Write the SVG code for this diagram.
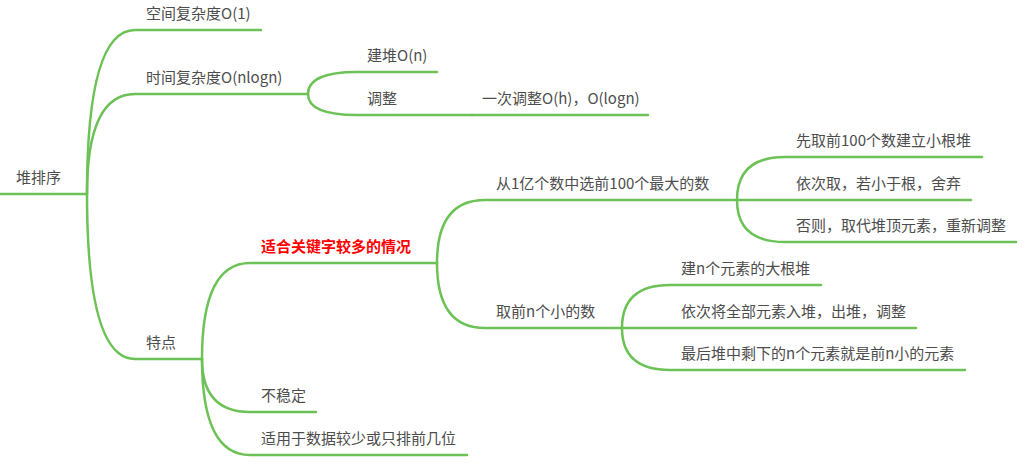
<svg xmlns="http://www.w3.org/2000/svg" width="1032" height="466" viewBox="0 0 1032 466">
<style>
.c{fill:none;stroke:#6cc256;stroke-width:2.5;stroke-linecap:round}
.t{font-family:"Noto Sans CJK SC","Liberation Sans",sans-serif;font-size:15px;fill:#4d4d4d}
.r{fill:#ff0000;font-weight:bold}
</style>
<rect width="1032" height="466" fill="#ffffff"/>
<g id="connectors">
<path class="c" d="M0 194H87"/>
<path class="c" d="M87 194Q87 30 135 30H261"/>
<path class="c" d="M87 194Q87 94 135 94H308"/>
<path class="c" d="M87 194Q87 359 135 359H202"/>
<path class="c" d="M308 94Q308 72 357 72H437"/>
<path class="c" d="M308 94Q308 115 357 115H472"/>
<path class="c" d="M472 115H648"/>
<path class="c" d="M202 359Q202 263 250 263H437"/>
<path class="c" d="M202 359Q202 412 250 412H316"/>
<path class="c" d="M202 359Q202 455 250 455H467"/>
<path class="c" d="M437 263Q437 200 485 200H737"/>
<path class="c" d="M437 263Q437 328 485 328H622"/>
<path class="c" d="M737 200Q737 157 785 157H982"/>
<path class="c" d="M737 200H971"/>
<path class="c" d="M737 200Q737 242 785 242H1016"/>
<path class="c" d="M622 328Q622 285 670 285H821"/>
<path class="c" d="M622 328H916"/>
<path class="c" d="M622 328Q622 370 670 370H965"/>
</g>
<g id="root"><text class="t" x="16" y="183">堆排序</text></g>
<g id="space"><text class="t" x="146" y="19">空间复杂度O(1)</text></g>
<g id="time"><text class="t" x="146" y="83">时间复杂度O(nlogn)</text></g>
<g id="build"><text class="t" x="367" y="61">建堆O(n)</text></g>
<g id="adjust"><text class="t" x="367" y="104">调整</text></g>
<g id="adjust-once"><text class="t" x="482" y="104">一次调整O(h)，O(logn)</text></g>
<g id="features"><text class="t" x="146" y="348">特点</text></g>
<g id="many-keys"><text class="t r" x="261" y="252">适合关键字较多的情况</text></g>
<g id="top100"><text class="t" x="496" y="189">从1亿个数中选前100个最大的数</text></g>
<g id="top100-a"><text class="t" x="796" y="146">先取前100个数建立小根堆</text></g>
<g id="top100-b"><text class="t" x="796" y="189">依次取，若小于根，舍弃</text></g>
<g id="top100-c"><text class="t" x="796" y="231">否则，取代堆顶元素，重新调整</text></g>
<g id="smalln"><text class="t" x="496" y="317">取前n个小的数</text></g>
<g id="smalln-a"><text class="t" x="681" y="274">建n个元素的大根堆</text></g>
<g id="smalln-b"><text class="t" x="681" y="317">依次将全部元素入堆，出堆，调整</text></g>
<g id="smalln-c"><text class="t" x="681" y="359">最后堆中剩下的n个元素就是前n小的元素</text></g>
<g id="unstable"><text class="t" x="261" y="401">不稳定</text></g>
<g id="few-data"><text class="t" x="261" y="444">适用于数据较少或只排前几位</text></g>
</svg>
